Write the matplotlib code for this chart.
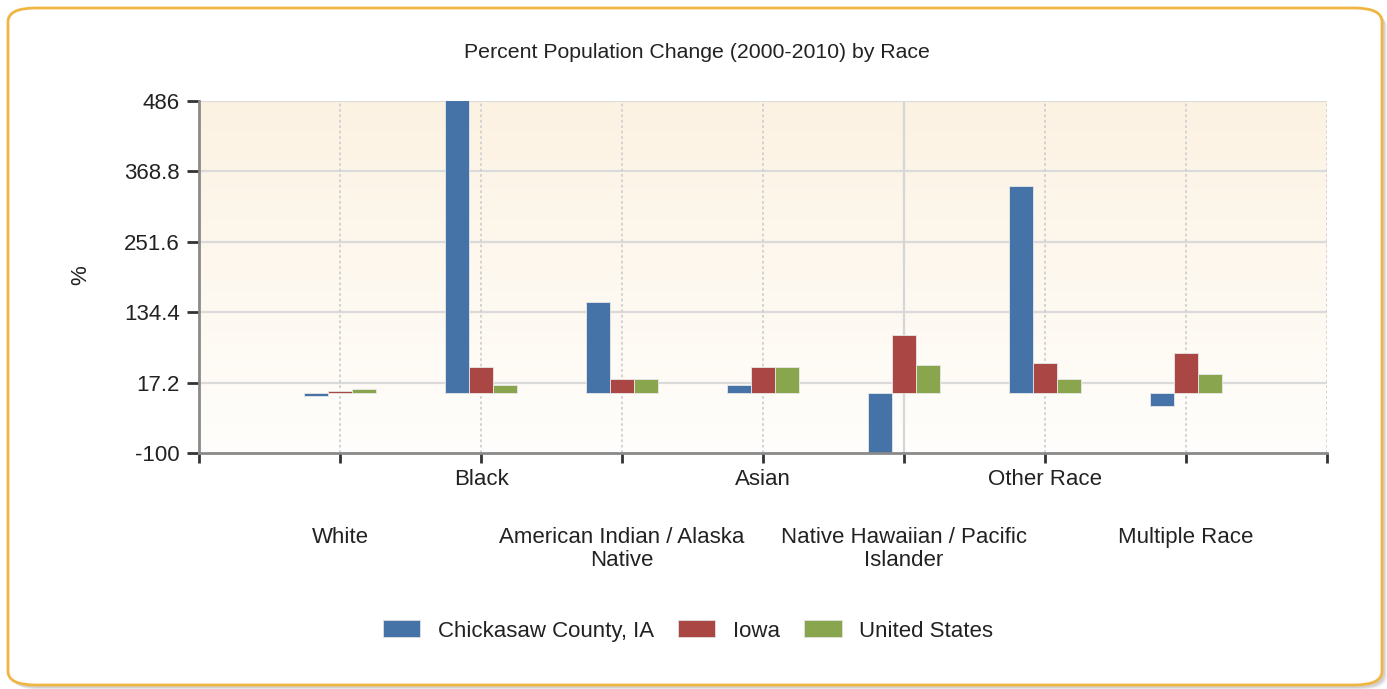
import matplotlib
matplotlib.use("Agg")
import matplotlib.pyplot as plt
import numpy as np
from matplotlib.patches import FancyBboxPatch, Patch
from matplotlib.transforms import blended_transform_factory

plt.rcParams["font.family"] = ["Liberation Sans", "DejaVu Sans"]

# data
categories = ["White", "Black", "American Indian / Alaska\nNative", "Asian",
              "Native Hawaiian / Pacific\nIslander", "Other Race", "Multiple Race"]
series_names = ["Chickasaw County, IA", "Iowa", "United States"]
chickasaw = [-5, 560, 152, 14, -100, 344, -22]
iowa = [4, 44, 23, 44, 97, 50, 66]
united_states = [6, 14, 23, 43, 47, 23, 32]
y_ticks = [-100, 17.2, 134.4, 251.6, 368.8, 486]
y_tick_labels = ["-100", "17.2", "134.4", "251.6", "368.8", "486"]

COLORS = ["#4572a7", "#aa4643", "#89a54e"]
INK = "#222222"
W, H = 1387, 689
FS = 16

fig = plt.figure(figsize=(W / 100, H / 100), dpi=100)
fig.patch.set_facecolor("white")

# rounded frame with a soft shadow
for off, a in [(5, 0.10), (4, 0.15), (3, 0.22)]:
    fig.patches.append(FancyBboxPatch(
        ((8 + off) / W, 1 - (685 + off) / H), 1374 / W, 677 / H,
        boxstyle="round,pad=0,rounding_size=0.02", transform=fig.transFigure,
        facecolor="#909090", edgecolor="none", alpha=a, zorder=0))
fig.patches.append(FancyBboxPatch(
    (8 / W, 1 - 685 / H), 1374 / W, 677 / H,
    boxstyle="round,pad=0,rounding_size=0.02", transform=fig.transFigure,
    facecolor="white", edgecolor="#efb643", linewidth=2.0, zorder=1))

ax = fig.add_axes([199 / W, 1 - 453 / H, (1327 - 199) / W, (453 - 101) / H])
ax.set_facecolor("none")
ax.set_zorder(2)

x = np.arange(len(categories))
ax.set_xlim(-1, len(categories))
ax.set_ylim(y_ticks[0], y_ticks[-1])

# background gradient
grad = np.linspace(0, 1, 256).reshape(-1, 1)
top = np.array(matplotlib.colors.to_rgb("#fcf2e2"))
bot = np.array(matplotlib.colors.to_rgb("#fffefc"))
img = top[None, None, :] * (1 - grad[:, :, None]) + bot[None, None, :] * grad[:, :, None]
ax.imshow(img, extent=[-1, len(categories), y_ticks[0], y_ticks[-1]],
          aspect="auto", origin="upper", zorder=0)

# grid
for yv in y_ticks[1:]:
    ax.axhline(yv, color="#dadada", lw=1.6, zorder=1)
for xv in list(x) + [len(categories)]:
    if xv == 4:
        ax.axvline(xv, color="#d6d6d6", lw=1.6, zorder=1)
    else:
        ax.axvline(xv, color="#d0d0d0", lw=1.3, ls=(0, (1.5, 1.5)), zorder=1)

bw = 0.17
for i, vals in enumerate([chickasaw, iowa, united_states]):
    ax.bar(x + (i - 1) * bw, vals, width=bw, color=COLORS[i],
           edgecolor="#e8e8e8", linewidth=0.6, zorder=3, label=series_names[i])

for s in ["top", "right"]:
    ax.spines[s].set_visible(False)
for s in ["left", "bottom"]:
    ax.spines[s].set_color("#8a8a8a")
    ax.spines[s].set_linewidth(2.0)
    ax.spines[s].set_zorder(4)

ax.set_yticks(y_ticks)
ax.set_yticklabels(y_tick_labels, fontsize=FS, color=INK)
ax.tick_params(axis="y", length=9, width=2, color="#333333", pad=5)
ax.set_xticks(list(np.arange(-1, len(categories) + 1)))
ax.set_xticklabels([])
ax.tick_params(axis="x", length=7, width=2, color="#333333")

# staggered category labels
tr = blended_transform_factory(ax.transData, fig.transFigure)
for i, lab in enumerate(categories):
    ytop = 469 if i % 2 == 1 else 527
    ax.text(i, 1 - ytop / H, lab, transform=tr, ha="center", va="top",
            fontsize=FS, color=INK, linespacing=1.12)

fig.text(81 / W, 1 - 275 / H, "%", rotation=90, ha="center", va="center",
         fontsize=FS, color=INK)
fig.text(697 / W, 1 - 52 / H, "Percent Population Change (2000-2010) by Race",
         ha="center", va="center", fontsize=15.3, color=INK)

handles = [Patch(facecolor=c, edgecolor="#e0e0e0", linewidth=0.6) for c in COLORS]
fig.legend(handles, series_names, loc="center", bbox_to_anchor=(688 / W, 1 - 631 / H),
           ncol=3, frameon=False, fontsize=FS, handlelength=1.67, handleheight=0.77,
           handletextpad=0.8, columnspacing=1.1, labelcolor=INK)

fig.savefig("out.png", dpi=100)
